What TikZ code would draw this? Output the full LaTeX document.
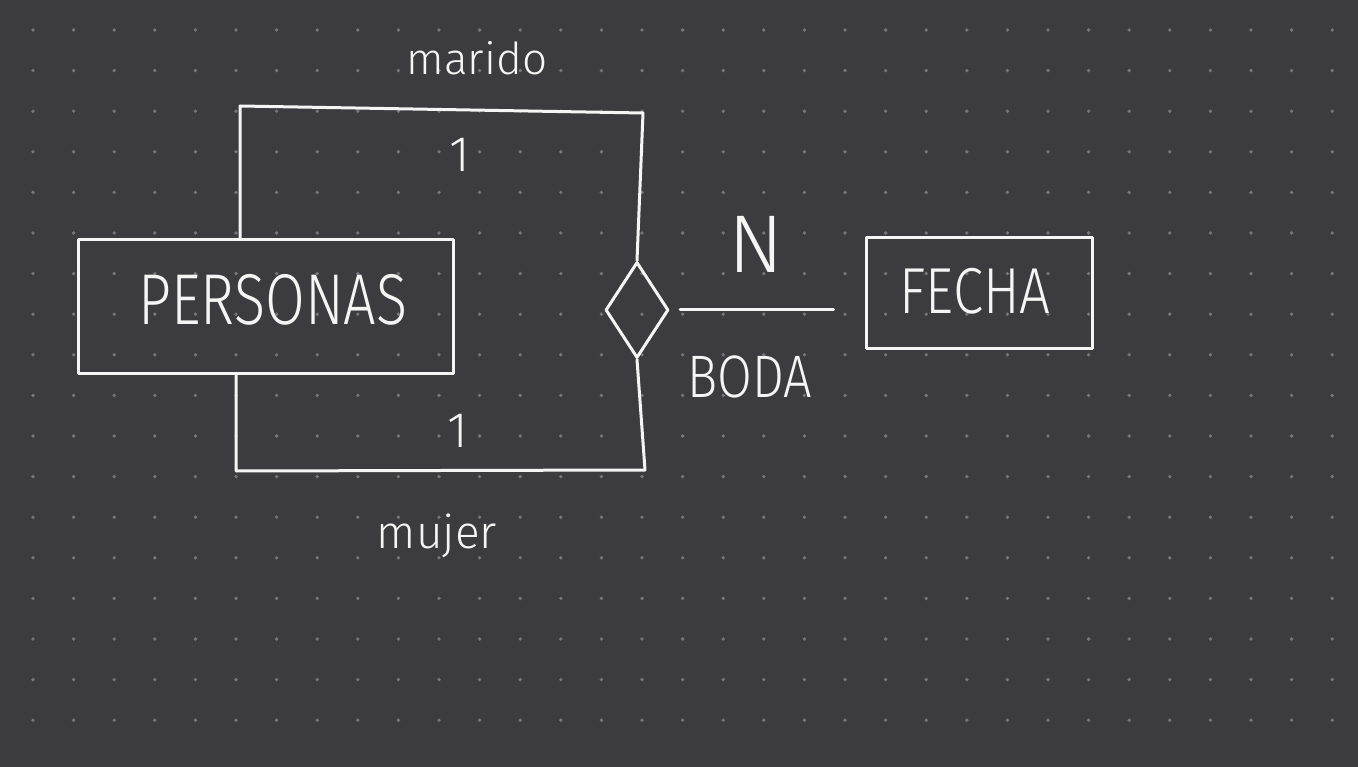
\documentclass[tikz,border=0pt]{standalone}
\usepackage{fontspec}
\newfontfamily\hand{Fira Sans Light}
\usetikzlibrary{shapes.geometric}
\definecolor{bg}{HTML}{3C3B3F}
\definecolor{dotc}{HTML}{75747A}
\definecolor{ink}{HTML}{F5F5F5}
\begin{document}
\begin{tikzpicture}[x=1pt,y=-1pt,
  inkline/.style={draw=ink,line width=3pt,line cap=round,line join=round},
  entity/.style={inkline,rectangle,inner sep=0pt},
  lbl/.style={text=ink,inner sep=0pt,anchor=base}]
\fill[bg] (0,0) rectangle (1358,767);
\useasboundingbox (0,0) rectangle (1358,767);
\foreach \i in {0,...,32}{\foreach \j in {0,...,17}{\fill[dotc] (33+40.6*\i,30+40.6*\j) circle (1.9);}}
% entities and relationship
\node[entity,minimum width=375,minimum height=134] (personas) at (265.5,307) {};
\node[entity,minimum width=226,minimum height=111] (fecha) at (979,293) {};
\node[inkline,diamond,minimum width=63,minimum height=96,inner sep=0pt] (diam) at (637,310) {};
% texts
\node[lbl,font=\hand\fontsize{72}{72}\selectfont] (tpersonas) at (273,325) {\scalebox{0.8}[1]{PERSONAS}};
\node[lbl,font=\hand\fontsize{65}{65}\selectfont] (tfecha) at (975,314) {\scalebox{0.84}[1]{FECHA}};
\node[lbl,font=\hand\fontsize{60}{60}\selectfont] (tboda) at (750,397) {\scalebox{0.84}[1]{BODA}};
\node[lbl,font=\hand\fontsize{82}{82}\selectfont] (tn) at (756,273) {N};
\node[lbl,font=\hand\fontsize{50}{50}\selectfont] (tone1) at (460,172) {1};
\node[lbl,font=\hand\fontsize{50}{50}\selectfont] (tone2) at (458,447) {1};
\node[lbl,font=\hand\fontsize{44}{44}\selectfont] (tmarido) at (477,75) {marido};
\node[lbl,font=\hand\fontsize{46}{46}\selectfont] (tmujer) at (437,548) {mujer};
% connectors
\coordinate (m1) at (240,106);
\coordinate (m2) at (643,113);
\draw[inkline] (personas.north -| m1) -- (m1) -- (m2) -- (diam.north);
\coordinate (w1) at (236,471);
\coordinate (w2) at (645,470);
\draw[inkline] (personas.south -| w1) -- (w1) -- (w2) -- (diam.south);
\draw[inkline,shorten <=10pt,shorten >=31pt] (diam.east) -- (fecha.west |- diam.east);
\end{tikzpicture}
\end{document}
